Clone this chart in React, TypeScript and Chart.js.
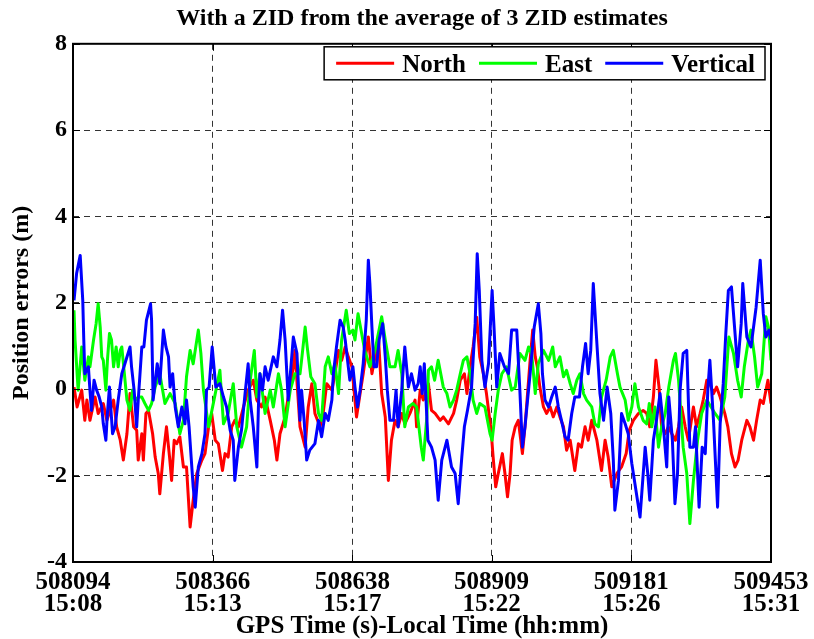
import React, { useEffect, useRef } from 'react';
import { Chart, registerables } from 'chart.js';

Chart.register(...registerables);

const chartTitle = 'With a ZID from the average of 3 ZID estimates';
const xAxisTitle = 'GPS Time (s)-Local Time (hh:mm)';
const yAxisTitle = 'Position errors (m)';
const seriesLabels = ['North', 'East', 'Vertical'];
const seriesColors = ['#ff0000', '#00ff00', '#0000ff'];

const xTickValues = [508094, 508366, 508638, 508909, 509181, 509453];
const xTickGps = ['508094', '508366', '508638', '508909', '509181', '509453'];
const xTickLocal = ['15:08', '15:13', '15:17', '15:22', '15:26', '15:31'];
const yTickValues = [-4, -2, 0, 2, 4, 6, 8];
const yTickLabels = ['-4', '-2', '0', '2', '4', '6', '8'];

const northT = [508096,508102,508111,508117,508121,508127,508137,508143,508153,508160,508173,508179,508186,508192,508199,508205,508212,508218,508221,508228,508231,508236,508241,508249,508254,508260,508263,508270,508276,508282,508286,508291,508296,508302,508309,
508315,508322,508328,508335,508345,508351,508358,508364,508371,508377,508385,508390,508396,508403,508409,508416,508426,508435,508445,508452,508461,508468,508478,508486,508491,508497,508507,508513,508523,508526,508536,
508546,508552,508559,508565,508575,508581,508588,508598,508604,508611,508617,508624,508630,508637,508643,508646,508653,508659,508669,508676,508682,508689,508695,508702,508708,508714,508721,508727,508734,508740,508750,508760,
508763,508770,508776,508786,508792,508799,508809,508815,508825,508835,508841,508848,508856,508861,508867,508873,508880,508886,508893,508899,508908,508912,508917,508922,508930,508935,508940,508945,508949,508955,508961,508969,508974,508984,
508989,508994,508998,509003,509010,509016,509023,509029,509036,509042,509049,509055,509062,509071,509078,509084,509091,509097,509104,509114,509123,509130,509136,509143,509153,509162,509171,509177,509185,509195,509204,
509211,509217,509224,509229,509235,509240,509247,509253,509260,509267,509273,509279,509286,509292,509302,509308,509315,509321,509328,509334,509341,509347,509354,509363,509369,509376,509383,509389,509396,509406,509412,509419,509425,509432,509438,509447,509453];
const northV = [0.05,-0.41,-0.02,-0.72,-0.25,-0.72,-0.18,-0.56,-0.33,-0.72,-0.25,-0.87,-1.18,-1.64,-1.03,-0.10,-0.87,-0.95,-1.64,-1.03,-1.64,-0.56,-0.49,-1.03,-1.57,-1.95,-2.42,-1.49,-0.87,-1.57,-2.11,-1.18,-1.26,-1.10,-1.80,
-1.80,-3.19,-2.57,-1.95,-1.64,-1.49,-0.87,-0.56,-1.18,-1.26,-1.88,-1.49,-1.57,-0.87,-0.72,-0.87,-0.41,-0.02,0.21,-0.25,-0.41,-0.18,-0.72,-1.18,-1.64,-1.03,-0.64,-0.18,0.52,0.90,-0.87,
-1.34,-0.41,0.13,-0.56,-0.87,-0.56,0.13,-0.02,0.36,0.90,0.67,0.98,0.75,0.52,-0.25,-0.64,-0.10,0.36,1.21,0.36,0.75,1.14,-0.10,-0.64,-2.11,-1.18,-0.72,-0.87,-0.56,-0.80,-0.56,-0.25,
-0.87,-0.02,-0.25,0.13,-0.49,-0.56,-0.72,-0.64,-0.80,-0.56,-0.25,0.21,0.36,-0.10,0.52,0.98,1.67,0.75,0.36,-0.10,-0.95,-1.57,-2.26,-1.95,-1.49,-1.95,-2.49,-1.95,-1.18,-0.87,-0.72,-1.49,-0.87,0.67,
1.37,0.75,0.52,0.05,-0.41,-0.56,-0.41,-0.64,-0.41,-0.64,-0.87,-1.41,-1.18,-1.88,-1.26,-1.34,-0.87,-1.18,-0.72,-1.18,-1.88,-1.18,-1.57,-2.26,-1.95,-1.80,-1.49,-0.95,-0.72,-0.56,-0.49,
-0.56,-0.87,-0.18,0.67,0.05,-0.87,-1.03,-0.87,-1.03,-1.18,-0.87,-0.41,-0.87,-1.18,-0.41,-0.87,-0.56,-0.25,0.21,0.13,-0.10,0.05,-0.18,-0.56,-0.87,-1.49,-1.80,-1.64,-1.18,-0.72,-0.87,-1.18,-0.72,-0.25,-0.33,0.21,-0.33];

const eastT = [508096,508098,508104,508111,508117,508124,508127,508134,508139,508143,508147,508150,508153,508158,508161,508165,508169,508173,508178,508182,508186,508189,508199,508205,508210,508215,508221,508228,508234,508241,508247,508254,508263,508273,508283,508293,508302,508309,
508315,508322,508328,508338,508343,508348,508358,508371,508380,508387,508396,508406,508413,508422,508432,508439,508447,508452,508458,508468,508478,508484,508494,508500,508507,508517,508526,508536,
508539,508546,508550,508557,508565,508572,508578,508585,508591,508598,508604,508611,508617,508626,508632,508639,508643,508649,508656,508662,508672,508682,508695,508702,508711,508721,508727,508734,508740,508747,508756,
508763,508772,508776,508783,508786,508792,508798,508805,508815,508822,508828,508835,508841,508848,508854,508861,508867,508873,508880,508886,508896,508906,508910,508916,508922,508929,508938,508948,508955,508964,508974,508981,
508987,508994,509000,509010,509020,509028,509033,509042,509049,509055,509062,509068,509075,509081,509088,509094,509104,509110,509117,509123,509132,509140,509146,509154,509159,509169,509175,509182,509188,509195,509204,
509211,509216,509221,509227,509234,509240,509247,509254,509263,509267,509273,509282,509289,509295,509302,509310,509318,509328,509344,509354,509363,509371,509380,509388,509395,509401,509409,509414,509421,509427,509435,509443,509448,509453];
const eastV = [1.83,1.14,-0.02,0.98,0.21,0.75,0.52,1.14,1.52,1.98,1.44,0.75,0.67,-0.02,0.67,1.29,1.14,0.52,0.98,0.52,0.90,0.98,-0.25,-0.49,-0.02,-0.25,-0.18,-0.18,-0.33,-0.49,-0.33,0.05,0.36,-0.33,-0.10,-0.33,-1.03,-0.72,
0.29,0.90,0.59,1.37,0.83,-0.02,-0.87,-0.10,0.44,-0.80,-0.56,0.13,-0.87,-1.34,-0.87,0.21,0.90,-0.18,0.36,-0.56,-0.02,-0.41,0.36,-0.02,-0.87,-0.02,0.36,0.36,
0.67,1.44,0.98,0.29,0.13,-0.56,-0.72,0.52,0.75,0.36,0.59,-0.10,1.14,1.83,1.29,1.37,1.14,1.75,1.29,0.90,0.52,0.90,1.68,1.14,0.52,0.52,0.90,0.36,-0.87,-0.41,-0.33,
-0.41,-1.34,-1.64,-0.64,0.44,0.52,0.21,0.67,0.05,-0.10,-0.41,-0.25,-0.02,0.36,0.67,0.75,0.36,-0.25,-0.56,-0.33,-0.41,-1.03,-1.18,-0.56,-0.02,0.36,0.52,-0.02,0.05,0.83,0.67,0.98,
0.83,-0.10,0.59,0.90,0.67,0.98,0.52,0.75,0.29,0.44,0.13,-0.10,0.21,0.36,-0.10,-0.25,-0.41,-0.80,-0.87,-0.18,0.21,0.75,0.90,0.36,0.05,-0.25,-0.72,-0.41,0.13,-0.41,-0.72,
-0.80,-0.33,-0.87,-0.41,-1.34,-0.87,-0.56,0.05,0.67,0.83,0.21,-1.34,-1.95,-3.11,-2.11,-1.18,-0.56,-0.25,-0.56,-0.72,-0.18,1.21,0.83,0.21,-0.18,0.52,1.14,1.37,0.75,0.05,0.36,1.68,1.44,0.67];

const vertT = [508096,508101,508108,508113,508115,508117,508124,508127,508130,508135,508140,508145,508150,508153,508158,508161,508165,508171,508176,508182,508189,508195,508205,508208,508213,508218,508221,508228,508232,508237,508245,508247,508250,508258,508263,508270,508275,508280,508283,508288,508293,508299,508306,508312,
508315,508320,508324,508328,508332,508338,508345,508351,508354,508359,508365,508372,508380,508387,508393,508400,508406,508409,508416,508422,508429,508435,508439,508445,508452,508455,508458,508463,508468,508474,508484,508491,508497,508502,508507,508513,508523,508530,508536,
508539,508544,508549,508555,508565,508572,508578,508585,508591,508598,508601,508607,508614,508620,508624,508630,508633,508639,508643,508648,508653,508659,508665,508669,508672,508676,508680,508685,508690,508697,508702,508706,508711,508718,508723,508727,508734,508740,508747,508753,508760,
508766,508770,508774,508778,508785,508792,508799,508805,508812,508822,508831,508838,508844,508851,508856,508862,508870,508877,508881,508885,508890,508896,508903,508910,508914,508919,508925,508934,508942,508948,508958,508964,508969,508974,508984,508992,
509000,509005,509008,509013,509020,509026,509033,509039,509045,509052,509058,509065,509071,509080,509086,509092,509097,509102,509107,509114,509120,509127,509134,509141,509146,509149,509156,509162,509169,509175,509182,509188,509198,509208,
509213,509217,509224,509230,509237,509243,509250,509254,509261,509266,509271,509276,509282,509289,509295,509302,509306,509313,509319,509325,509330,509334,509341,509349,509354,509360,509365,509370,509376,509388,509395,509398,509406,509414,509424,509432,509438,509443,509449,509453];
const vertV = [2.06,2.68,3.10,2.06,1.14,0.36,0.52,-0.02,-0.49,0.21,-0.02,-0.18,-0.41,-0.80,-1.18,-0.56,0.05,-1.03,-0.87,-0.25,0.36,0.59,0.98,0.52,-0.02,-0.87,-0.25,0.98,0.98,1.60,1.98,1.60,-0.25,0.59,0.13,1.37,0.98,0.75,0.05,0.36,-0.41,-0.87,-0.41,-0.80,
-0.25,-0.87,-1.57,-2.26,-2.73,-1.80,-1.49,-1.03,-0.02,0.05,0.98,0.05,0.13,-0.18,-0.41,-0.95,-1.18,-2.11,-1.34,-0.95,-0.10,0.59,-0.25,-0.87,-1.80,-0.41,0.36,-0.02,0.52,0.21,0.75,0.52,1.14,1.83,1.14,-0.25,1.21,0.83,-0.72,
-0.02,-0.72,-1.64,-1.41,-1.26,-0.72,-1.10,-0.56,-0.72,-0.25,0.36,0.98,1.60,1.44,1.14,0.52,0.21,0.52,0.05,-0.41,-0.02,0.59,1.60,2.99,2.45,1.44,0.52,0.52,1.14,1.52,0.75,-0.02,-0.72,-0.72,-0.02,-0.87,-0.02,0.98,0.05,0.36,-0.02,
0.13,0.52,-0.10,0.59,-1.18,-1.34,-1.64,-2.57,-1.64,-1.18,-1.80,-1.95,-2.65,-1.57,-0.87,-0.49,0.05,1.52,3.14,2.29,0.67,0.05,0.59,2.29,1.37,0.05,0.83,0.52,0.36,1.37,1.37,-0.02,-1.34,-0.87,0.36,1.44,
1.98,1.29,0.36,-0.25,-0.41,-0.18,0.05,-0.41,-0.72,-1.10,-1.18,-0.56,-0.18,-0.18,0.52,1.06,0.36,0.90,2.45,1.06,-0.10,-0.72,0.05,-0.56,-1.64,-2.80,-2.11,-0.56,-0.80,-1.03,-1.72,-2.18,-2.96,-1.34,
-1.95,-2.57,-1.18,-0.72,-0.10,-0.80,-1.80,-0.18,-1.18,-2.65,-1.95,-0.02,0.83,0.90,-1.34,-1.34,-0.87,-2.73,-1.34,-1.49,-0.02,0.67,-0.72,-2.73,-0.80,0.13,1.29,2.29,2.37,0.52,1.52,2.45,1.21,0.98,1.90,2.99,1.75,1.21,1.37,1.14];

const FONT_FAMILY = '"Liberation Serif", "Times New Roman", Times, serif';

function toPoints(t: number[], v: number[]) {
  return t.map((x, i) => ({ x, y: v[i] }));
}

const framePlugin = {
  id: 'frameAndLegend',
  afterDatasetsDraw(chart: any) {
    const { ctx, chartArea: a, scales } = chart;
    ctx.save();
    ctx.setLineDash([]);
    ctx.strokeStyle = '#000';
    ctx.lineWidth = 1;
    const tl = 7;
    scales.x.ticks.forEach((t: any) => {
      const px = Math.round(scales.x.getPixelForValue(t.value)) + 0.5;
      ctx.beginPath();
      ctx.moveTo(px, a.bottom);
      ctx.lineTo(px, a.bottom - tl);
      ctx.moveTo(px, a.top);
      ctx.lineTo(px, a.top + tl);
      ctx.stroke();
    });
    scales.y.ticks.forEach((t: any) => {
      const py = Math.round(scales.y.getPixelForValue(t.value)) + 0.5;
      ctx.beginPath();
      ctx.moveTo(a.left, py);
      ctx.lineTo(a.left + tl, py);
      ctx.moveTo(a.right, py);
      ctx.lineTo(a.right - tl, py);
      ctx.stroke();
    });
    ctx.lineWidth = 2;
    ctx.strokeRect(a.left, a.top, a.right - a.left, a.bottom - a.top);

    // legend
    ctx.font = 'bold 25px ' + FONT_FAMILY;
    const items = chart.data.datasets.map((ds: any) => ({
      label: ds.label,
      color: ds.borderColor,
      w: ctx.measureText(ds.label).width,
    }));
    const lineLen = 58, gapLT = 8, gapItem = 13, padL = 12, padR = 10;
    let total = padL + padR + gapItem * (items.length - 1);
    items.forEach((it: any) => { total += lineLen + gapLT + it.w; });
    const boxR = a.right - 6;
    const boxT = a.top + 3;
    const boxH = 33;
    const boxL = boxR - total;
    ctx.fillStyle = '#fff';
    ctx.fillRect(boxL, boxT, total, boxH);
    ctx.lineWidth = 1.5;
    ctx.strokeStyle = '#000';
    ctx.strokeRect(boxL, boxT, total, boxH);
    const cy = boxT + boxH / 2;
    let x = boxL + padL;
    items.forEach((it: any) => {
      ctx.strokeStyle = it.color;
      ctx.lineWidth = 3;
      ctx.beginPath();
      ctx.moveTo(x, cy);
      ctx.lineTo(x + lineLen, cy);
      ctx.stroke();
      ctx.fillStyle = '#000';
      ctx.textAlign = 'left';
      ctx.textBaseline = 'middle';
      ctx.fillText(it.label, x + lineLen + gapLT, cy + 2);
      x += lineLen + gapLT + it.w + gapItem;
    });
    ctx.restore();
  },
};

export default function App() {
  const canvasRef = useRef<HTMLCanvasElement | null>(null);

  useEffect(() => {
    document.body.style.margin = '0';
    const canvas = canvasRef.current;
    if (!canvas) return;
    const series = [
      toPoints(northT, northV),
      toPoints(eastT, eastV),
      toPoints(vertT, vertV),
    ];
    const drawOrder = [2, 1, 0];
    const chart = new Chart(canvas, {
      type: 'line',
      data: {
        datasets: series.map((pts, i) => ({
          label: seriesLabels[i],
          data: pts,
          borderColor: seriesColors[i],
          backgroundColor: seriesColors[i],
          borderWidth: 3,
          pointRadius: 0,
          tension: 0,
          fill: false,
          order: drawOrder[i],
          borderJoinStyle: 'round' as const,
        })),
      },
      plugins: [framePlugin],
      options: {
        responsive: false,
        animation: false,
        devicePixelRatio: 1,
        layout: { padding: { left: 0, right: 43, top: 0, bottom: 0 } },
        plugins: {
          legend: { display: false },
          tooltip: { enabled: false },
          title: {
            display: true,
            text: chartTitle,
            fullSize: false,
            color: '#000',
            font: { family: FONT_FAMILY, size: 24, weight: 'bold', lineHeight: 1.2 },
            padding: { top: 4, bottom: 11 },
          },
        },
        scales: {
          x: {
            type: 'linear',
            min: xTickValues[0],
            max: xTickValues[xTickValues.length - 1],
            afterBuildTicks: (scale: any) => {
              scale.ticks = xTickValues.map((v) => ({ value: v }));
            },
            afterFit: (scale: any) => {
              scale.height = 77;
              scale.paddingLeft = 0;
              scale.paddingRight = 0;
            },
            ticks: {
              autoSkip: false,
              maxRotation: 0,
              minRotation: 0,
              padding: 9,
              color: '#000',
              font: { family: FONT_FAMILY, size: 25, weight: 'bold', lineHeight: 0.9 },
              callback: (_v: any, idx: number) => [xTickGps[idx], xTickLocal[idx]],
            },
            grid: {
              color: 'rgba(0,0,0,0.8)',
              lineWidth: 1,
              drawTicks: false,
            },
            border: { display: false, dash: [6, 5] },
            title: {
              display: true,
              text: xAxisTitle,
              color: '#000',
              font: { family: FONT_FAMILY, size: 25, weight: 'bold', lineHeight: 1 },
              padding: { top: 0, bottom: 0 },
            },
          },
          y: {
            type: 'linear',
            min: yTickValues[0],
            max: yTickValues[yTickValues.length - 1],
            afterBuildTicks: (scale: any) => {
              scale.ticks = yTickValues.map((v) => ({ value: v }));
            },
            afterFit: (scale: any) => {
              scale.width = 73;
              scale.paddingTop = 0;
              scale.paddingBottom = 0;
            },
            ticks: {
              padding: 6,
              color: '#000',
              font: { family: FONT_FAMILY, size: 24, weight: 'bold' },
              callback: (_v: any, idx: number) => yTickLabels[idx],
            },
            grid: {
              color: 'rgba(0,0,0,0.8)',
              lineWidth: 1,
              drawTicks: false,
            },
            border: { display: false, dash: [6, 5] },
            title: {
              display: true,
              text: yAxisTitle,
              color: '#000',
              font: { family: FONT_FAMILY, size: 24, weight: 'bold', lineHeight: 1 },
              padding: { top: 10, bottom: 0 },
            },
          },
        },
      },
    } as any);
    return () => {
      chart.destroy();
    };
  }, []);

  return (
    <div style={{ width: 814, height: 639, background: '#fff' }}>
      <canvas ref={canvasRef} width={814} height={639} style={{ display: 'block', width: 814, height: 639 }} />
    </div>
  );
}
